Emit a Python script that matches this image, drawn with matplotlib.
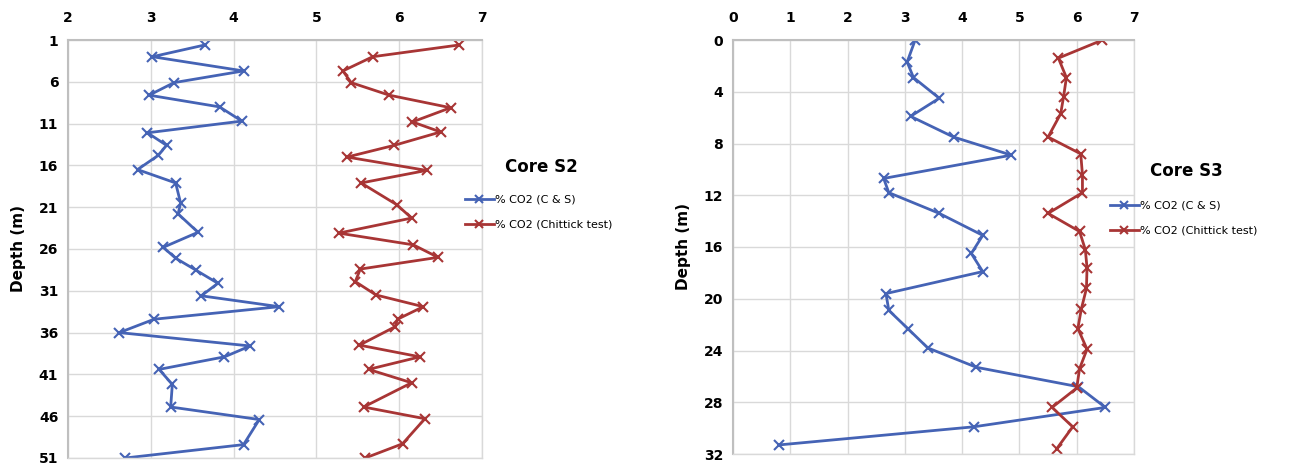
import matplotlib.pyplot as plt

# Core S2 data (depth in m, % CO2)
s2_cs_depth = [1.6, 3.0, 4.7, 6.1, 7.6, 9.0, 10.7, 12.1, 13.6, 14.8, 16.5, 18.1, 20.5, 21.8,
               24.0, 25.8, 27.1, 28.5, 30.1, 31.6, 32.9, 34.4, 36.0, 37.6, 38.9, 40.4, 42.2,
               44.9, 46.4, 49.4, 51.0]
s2_cs_val = [3.65, 3.02, 4.12, 3.28, 2.98, 3.83, 4.10, 2.96, 3.19, 3.09, 2.84, 3.30, 3.36, 3.33,
             3.57, 3.15, 3.30, 3.54, 3.81, 3.61, 4.55, 3.04, 2.62, 4.20, 3.89, 3.10, 3.26,
             3.24, 4.31, 4.12, 2.69]
s2_ch_depth = [1.6, 3.0, 4.7, 6.1, 7.6, 9.1, 10.8, 12.0, 13.6, 15.0, 16.6, 18.1, 20.7, 22.3,
               24.1, 25.5, 27.0, 28.4, 29.9, 31.5, 32.9, 34.4, 35.3, 37.5, 38.9, 40.4, 42.0,
               44.9, 46.3, 49.3, 51.0]
s2_ch_val = [6.72, 5.68, 5.32, 5.42, 5.88, 6.62, 6.16, 6.50, 5.94, 5.37, 6.33, 5.54, 5.97, 6.15,
             5.27, 6.17, 6.47, 5.53, 5.47, 5.72, 6.29, 5.98, 5.95, 5.52, 6.25, 5.63, 6.15,
             5.57, 6.31, 6.04, 5.59]

# Core S3 data
s3_cs_depth = [0, 1.7, 2.9, 4.5, 5.9, 7.5, 8.9, 10.7, 11.8, 13.4, 15.1, 16.5, 17.9, 19.6,
               20.9, 22.3, 23.8, 25.3, 26.8, 28.4, 29.9, 31.3]
s3_cs_val = [3.18, 3.04, 3.15, 3.60, 3.10, 3.85, 4.86, 2.63, 2.72, 3.60, 4.36, 4.16, 4.36, 2.67,
             2.72, 3.05, 3.40, 4.25, 6.03, 6.50, 4.20, 0.80]
s3_ch_depth = [0, 1.4, 2.9, 4.4, 5.7, 7.5, 8.8, 10.4, 11.8, 13.4, 14.8, 16.2, 17.6, 19.2,
               20.8, 22.3, 23.9, 25.4, 26.9, 28.4, 29.9, 31.6]
s3_ch_val = [6.45, 5.68, 5.82, 5.77, 5.72, 5.50, 6.07, 6.10, 6.10, 5.50, 6.05, 6.15, 6.18, 6.17,
             6.08, 6.02, 6.18, 6.05, 6.00, 5.57, 5.93, 5.65]

lbl_cs = "% CO2 (C & S)"
lbl_ch = "% CO2 (Chittick test)"
blue = "#4563b5"
red = "#a83535"


def style_axes(ax, xticks, yticks, ylim):
    ax.set_xlim(xticks[0], xticks[-1])
    ax.set_ylim(ylim)
    ax.set_xticks(xticks)
    ax.set_yticks(yticks)
    ax.xaxis.tick_top()
    ax.tick_params(length=0, labelsize=10)
    ax.tick_params(axis="x", pad=11)
    ax.tick_params(axis="y", pad=7)
    for t in ax.get_xticklabels() + ax.get_yticklabels():
        t.set_fontweight("bold")
    ax.grid(True, color="#d9d9d9", linewidth=1)
    ax.set_axisbelow(True)
    for side in ["right", "bottom"]:
        ax.spines[side].set_color("#d9d9d9")
        ax.spines[side].set_linewidth(1)
    for side in ["left", "top"]:
        ax.spines[side].set_color("#bfbfbf")
        ax.spines[side].set_linewidth(1.5)
    ax.set_ylabel("Depth (m)", fontweight="bold", fontsize=11, labelpad=9)


fig = plt.figure(figsize=(12.98, 4.71), dpi=100)

# left chart - Core S2
ax1 = fig.add_axes([68 / 1298, 1 - 458 / 471, 414 / 1298, 418 / 471])
ax1.plot(s2_cs_val, s2_cs_depth, color=blue, lw=2, marker="x", ms=7.5, mew=1.5, label=lbl_cs)
ax1.plot(s2_ch_val, s2_ch_depth, color=red, lw=2, marker="x", ms=7.5, mew=1.5, label=lbl_ch)
style_axes(ax1, [2, 3, 4, 5, 6, 7], [1, 6, 11, 16, 21, 26, 31, 36, 41, 46, 51], (51, 1))
fig.text(505 / 1298, 1 - 167 / 471, "Core S2", fontweight="bold", fontsize=12, va="center")
ax1.legend(loc="upper left", bbox_to_anchor=(455 / 1298, 1 - 185 / 471),
           bbox_transform=fig.transFigure, frameon=False, fontsize=8,
           handlelength=2.6, handletextpad=0.1, labelspacing=1.3, markerscale=0.7)

# right chart - Core S3
ax2 = fig.add_axes([733 / 1298, 1 - 454 / 471, 401 / 1298, 414 / 471])
ax2.plot(s3_cs_val, s3_cs_depth, color=blue, lw=2, marker="x", ms=7.5, mew=1.5, label=lbl_cs)
ax2.plot(s3_ch_val, s3_ch_depth, color=red, lw=2, marker="x", ms=7.5, mew=1.5, label=lbl_ch)
style_axes(ax2, [0, 1, 2, 3, 4, 5, 6, 7], [0, 4, 8, 12, 16, 20, 24, 28, 32], (32, 0))
fig.text(1150 / 1298, 1 - 171 / 471, "Core S3", fontweight="bold", fontsize=12, va="center")
ax2.legend(loc="upper left", bbox_to_anchor=(1100 / 1298, 1 - 191 / 471),
           bbox_transform=fig.transFigure, frameon=False, fontsize=8,
           handlelength=2.6, handletextpad=0.1, labelspacing=1.3, markerscale=0.7)

fig.savefig("out.png", dpi=100)
